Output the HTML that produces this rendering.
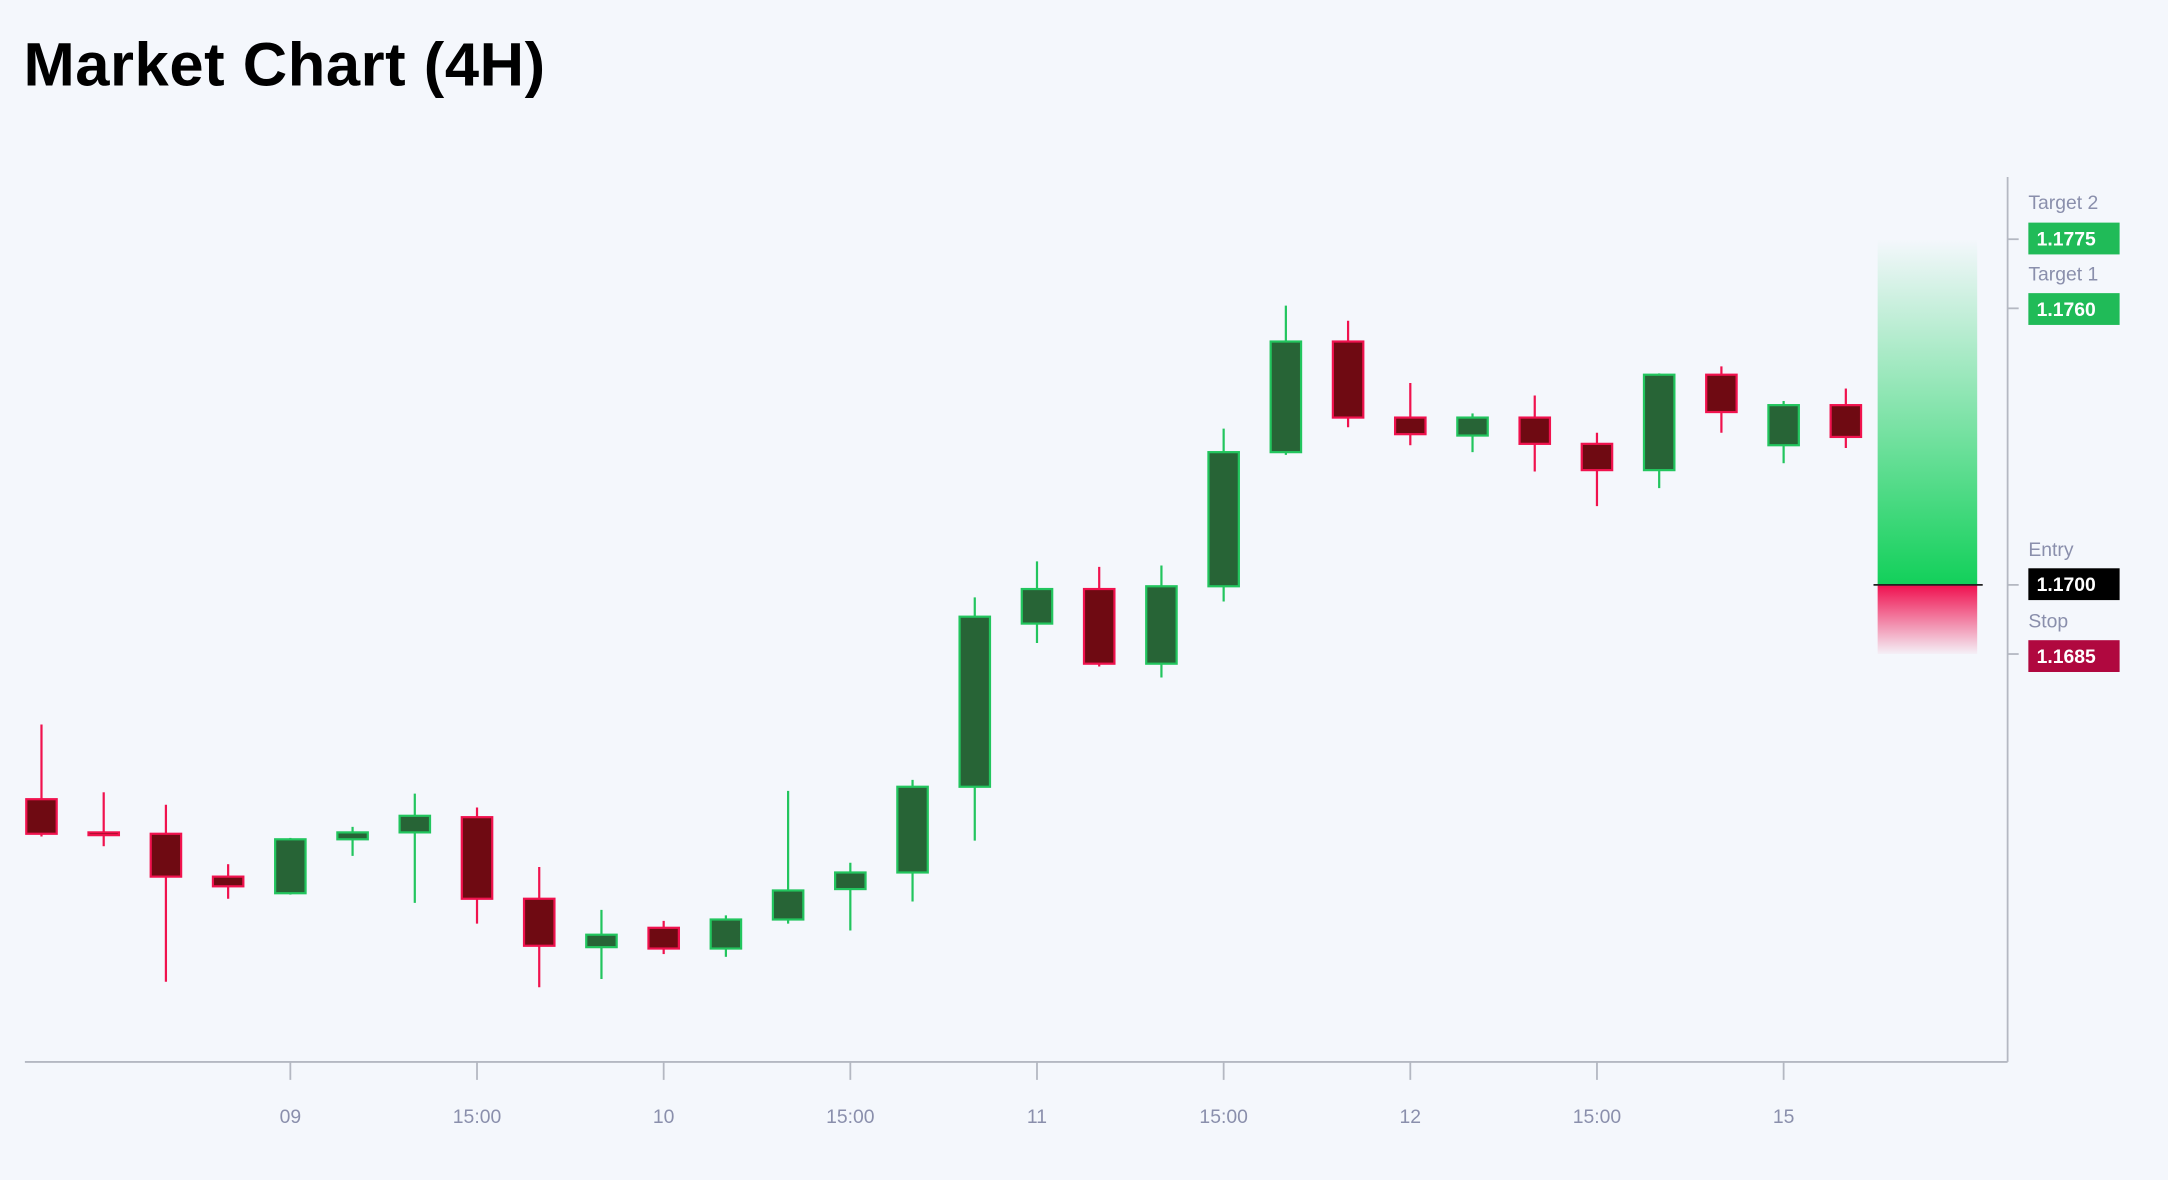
<!DOCTYPE html>
<html><head><meta charset="utf-8"><style>
html,body{margin:0;padding:0;background:#f4f7fc;}
svg{display:block;}
text{font-family:"Liberation Sans",sans-serif;}
</style></head><body>
<svg width="2168" height="1180" viewBox="0 0 1568 853.4" preserveAspectRatio="none" xmlns="http://www.w3.org/2000/svg">
<defs>
<linearGradient id="gg" x1="0" y1="0" x2="0" y2="1">
<stop offset="0" stop-color="#12d05a" stop-opacity="0"/>
<stop offset="0.4" stop-color="#12d05a" stop-opacity="0.4"/>
<stop offset="1" stop-color="#12d05a" stop-opacity="1"/>
</linearGradient>
<linearGradient id="rg" x1="0" y1="0" x2="0" y2="1">
<stop offset="0" stop-color="#f0104f" stop-opacity="1"/>
<stop offset="1" stop-color="#f0104f" stop-opacity="0.03"/>
</linearGradient>
</defs>
<rect width="1568" height="853.4" fill="#f4f7fc"/>
<text x="17" y="62" font-size="44.5" font-weight="bold" fill="#000" letter-spacing="0.4">Market Chart (4H)</text>

<g stroke="#b4b8c2" stroke-width="1.3">
<line x1="18" y1="768" x2="1452" y2="768"/>
<line x1="1452" y1="128" x2="1452" y2="768"/>
<line x1="210" y1="768" x2="210" y2="781"/><line x1="345" y1="768" x2="345" y2="781"/>
<line x1="480" y1="768" x2="480" y2="781"/><line x1="615" y1="768" x2="615" y2="781"/>
<line x1="750" y1="768" x2="750" y2="781"/><line x1="885" y1="768" x2="885" y2="781"/>
<line x1="1020" y1="768" x2="1020" y2="781"/><line x1="1155" y1="768" x2="1155" y2="781"/>
<line x1="1290" y1="768" x2="1290" y2="781"/>
<line x1="1452" y1="173" x2="1460" y2="173"/><line x1="1452" y1="223" x2="1460" y2="223"/>
<line x1="1452" y1="423" x2="1460" y2="423"/><line x1="1452" y1="473" x2="1460" y2="473"/>
</g>
<g font-size="14" fill="#8a8fac" text-anchor="middle">
<text x="210" y="812">09</text><text x="345" y="812">15:00</text><text x="480" y="812">10</text>
<text x="615" y="812">15:00</text><text x="750" y="812">11</text><text x="885" y="812">15:00</text>
<text x="1020" y="812">12</text><text x="1155" y="812">15:00</text><text x="1290" y="812">15</text>
</g>

<g stroke-width="1.6">
<g stroke="#f0124e" fill="#6f0a12">
<line x1="30" y1="524" x2="30" y2="605"/><rect x="19" y="578" width="22" height="25"/>
<line x1="75" y1="573" x2="75" y2="612"/><rect x="64" y="602" width="22" height="2"/>
<line x1="120" y1="582" x2="120" y2="710"/><rect x="109" y="603" width="22" height="31"/>
<line x1="165" y1="625" x2="165" y2="650"/><rect x="154" y="634" width="22" height="7"/>
<line x1="345" y1="584" x2="345" y2="668"/><rect x="334" y="591" width="22" height="59"/>
<line x1="390" y1="627" x2="390" y2="714"/><rect x="379" y="650" width="22" height="34"/>
<line x1="480" y1="666" x2="480" y2="690"/><rect x="469" y="671" width="22" height="15"/>
<line x1="795" y1="410" x2="795" y2="482"/><rect x="784" y="426" width="22" height="54"/>
<line x1="975" y1="232" x2="975" y2="309"/><rect x="964" y="247" width="22" height="55"/>
<line x1="1020" y1="277" x2="1020" y2="322"/><rect x="1009" y="302" width="22" height="12"/>
<line x1="1110" y1="286" x2="1110" y2="341"/><rect x="1099" y="302" width="22" height="19"/>
<line x1="1155" y1="313" x2="1155" y2="366"/><rect x="1144" y="321" width="22" height="19"/>
<line x1="1245" y1="265" x2="1245" y2="313"/><rect x="1234" y="271" width="22" height="27"/>
<line x1="1335" y1="281" x2="1335" y2="324"/><rect x="1324" y="293" width="22" height="23"/>
</g>
<g stroke="#22c55e" fill="#276436">
<line x1="210" y1="606" x2="210" y2="647"/><rect x="199" y="607" width="22" height="39"/>
<line x1="255" y1="598" x2="255" y2="619"/><rect x="244" y="602" width="22" height="5"/>
<line x1="300" y1="574" x2="300" y2="653"/><rect x="289" y="590" width="22" height="12"/>
<line x1="435" y1="658" x2="435" y2="708"/><rect x="424" y="676" width="22" height="9"/>
<line x1="525" y1="662" x2="525" y2="692"/><rect x="514" y="665" width="22" height="21"/>
<line x1="570" y1="572" x2="570" y2="668"/><rect x="559" y="644" width="22" height="21"/>
<line x1="615" y1="624" x2="615" y2="673"/><rect x="604" y="631" width="22" height="12"/>
<line x1="660" y1="564" x2="660" y2="652"/><rect x="649" y="569" width="22" height="62"/>
<line x1="705" y1="432" x2="705" y2="608"/><rect x="694" y="446" width="22" height="123"/>
<line x1="750" y1="406" x2="750" y2="465"/><rect x="739" y="426" width="22" height="25"/>
<line x1="840" y1="409" x2="840" y2="490"/><rect x="829" y="424" width="22" height="56"/>
<line x1="885" y1="310" x2="885" y2="435"/><rect x="874" y="327" width="22" height="97"/>
<line x1="930" y1="221" x2="930" y2="329"/><rect x="919" y="247" width="22" height="80"/>
<line x1="1065" y1="299" x2="1065" y2="327"/><rect x="1054" y="302" width="22" height="13"/>
<line x1="1200" y1="270" x2="1200" y2="353"/><rect x="1189" y="271" width="22" height="69"/>
<line x1="1290" y1="290" x2="1290" y2="335"/><rect x="1279" y="293" width="22" height="29"/>
</g>
</g>

<rect x="1358" y="173" width="72" height="250" fill="url(#gg)"/>
<rect x="1358" y="423" width="72" height="50" fill="url(#rg)"/>
<line x1="1355" y1="423" x2="1434" y2="423" stroke="#222" stroke-width="1.2"/>

<g font-size="14" fill="#8a8fac">
<text x="1467" y="151">Target 2</text>
<text x="1467" y="203">Target 1</text>
<text x="1467" y="402">Entry</text>
<text x="1467" y="454">Stop</text>
</g>
<rect x="1467" y="161" width="66" height="23" fill="#20bb58"/>
<rect x="1467" y="212" width="66" height="23" fill="#20bb58"/>
<rect x="1467" y="411" width="66" height="23" fill="#000"/>
<rect x="1467" y="463" width="66" height="23" fill="#b0083f"/>
<g font-size="14" font-weight="bold" fill="#fff">
<text x="1473" y="177.5">1.1775</text>
<text x="1473" y="228.5">1.1760</text>
<text x="1473" y="427.5">1.1700</text>
<text x="1473" y="479.5">1.1685</text>
</g>
</svg>
</body></html>
